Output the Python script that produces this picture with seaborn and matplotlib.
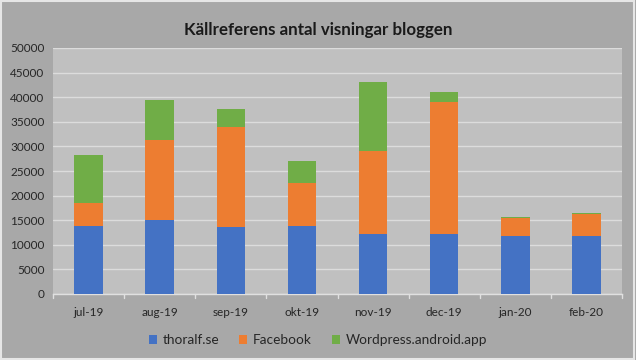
import numpy as np
import pandas as pd
import matplotlib.pyplot as plt
from matplotlib.patches import Patch
import seaborn as sns

# ── Data ───────────────────────────────────────────────────────────────────────
months = ["jul-19", "aug-19", "sep-19", "okt-19", "nov-19", "dec-19", "jan-20", "feb-20"]
thoralf = [13800, 15000, 13600, 13800, 12200, 12200, 11700, 11700]
facebook = [4700, 16200, 20400, 8700, 16800, 26800, 3800, 4600]
wordpress = [9800, 8300, 3500, 4500, 14000, 2000, 200, 200]

series = ["thoralf.se", "Facebook", "Wordpress.android.app"]
colors = ["#4472c4", "#ed7d31", "#70ad47"]

df = pd.DataFrame({"month": months, "thoralf.se": thoralf,
                   "Facebook": facebook, "Wordpress.android.app": wordpress})
# cumulative heights for stacking
df["c1"] = df["thoralf.se"]
df["c2"] = df["c1"] + df["Facebook"]
df["c3"] = df["c2"] + df["Wordpress.android.app"]

# ── Layout ─────────────────────────────────────────────────────────────────────
sns.set_theme(style="white")
plt.rcParams["font.family"] = ["Lato", "DejaVu Sans"]

fig = plt.figure(figsize=(6.36, 3.6), dpi=100, facecolor="#a8a8a8")
ax = fig.add_axes([53 / 636, 1 - 294 / 360, 569 / 636, 246 / 360])
ax.set_facecolor("#c0c0c0")

for col, color in zip(["c3", "c2", "c1"], colors[::-1]):
    sns.barplot(data=df, x="month", y=col, color=color, width=0.4,
                saturation=1, linewidth=0, ax=ax, zorder=3)

ax.set_ylim(0, 50000)
ax.set_yticks(np.arange(0, 50001, 5000))
ax.yaxis.grid(True, color="#dcdcdc", linewidth=1, zorder=0)
ax.set_axisbelow(True)
ax.set_xlabel("")
ax.set_ylabel("")
ax.tick_params(axis="both", labelsize=8.5, colors="#262626", length=0, pad=6)
ax.tick_params(axis="x", pad=9)

for side in ["top", "right", "left"]:
    ax.spines[side].set_visible(False)
ax.spines["bottom"].set_color("#e0e0e0")
ax.spines["bottom"].set_linewidth(1)

# small ticks between categories
for x in np.arange(-0.5, len(months), 1):
    ax.plot([x, x], [0, -900], color="#e0e0e0", linewidth=1, clip_on=False)
ax.set_xlim(-0.5, len(months) - 0.5)

fig.suptitle("Källreferens antal visningar bloggen", fontsize=12.2, fontweight="bold",
             color="#1a1a1a", y=0.94)

handles = [Patch(facecolor=c, edgecolor="none", label=s) for s, c in zip(series, colors)]
fig.legend(handles=handles, loc="center", bbox_to_anchor=(0.5, 1 - 340 / 360),
           ncol=3, frameon=False, fontsize=9.8, handlelength=0.6, handleheight=0.6,
           handletextpad=0.4, columnspacing=1.5, labelcolor="#262626")

# light frame around the chart
fig.patches.append(plt.Rectangle((0.002, 0.003), 0.995, 0.994, transform=fig.transFigure,
                                 fill=False, edgecolor="#e6e6e6", linewidth=1.5))

plt.savefig("out.png", dpi=100, facecolor=fig.get_facecolor())
